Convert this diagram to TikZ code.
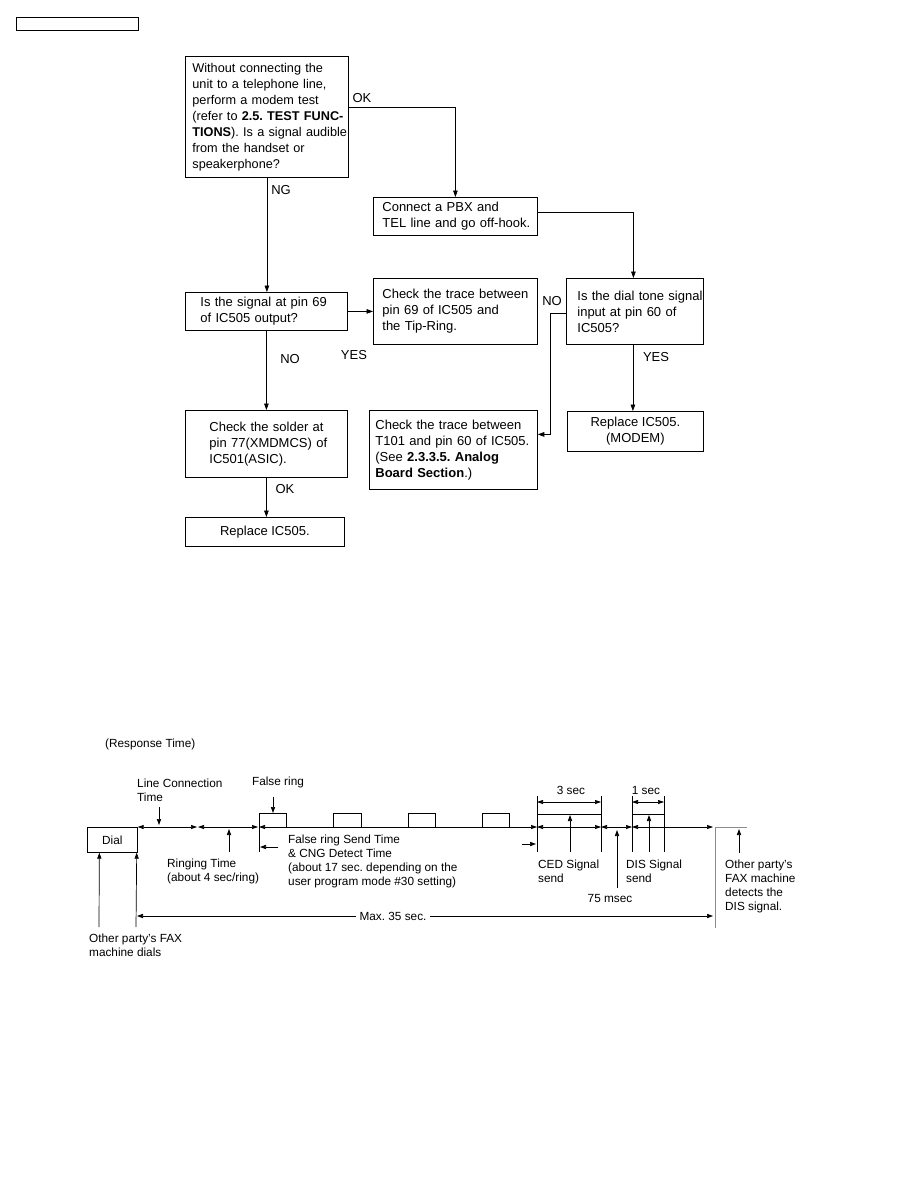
\documentclass[tikz,border=0pt]{standalone}
\usepackage{fontspec}
\setmainfont{Liberation Sans}
\usetikzlibrary{arrows.meta}
\frenchspacing
\newcommand\fcfont{\fontsize{13}{16}\selectfont}
\newcommand\fcfontb{\fontsize{12.7}{16}\selectfont}
\newcommand\tmfont{\fontsize{11.8}{14}\selectfont}
\tikzset{
  fbox/.style={draw, line width=0.8pt, anchor=north west, font=\fcfont, align=left, inner ysep=0pt},
  arr/.style={-{Triangle[length=6.5pt,width=4.6pt]}, line width=0.7pt},
  lbl/.style={font=\fcfont, inner sep=0pt},
  tline/.style={line width=0.7pt},
  darr/.style={{Triangle[length=6pt,width=4pt]}-{Triangle[length=6pt,width=4pt]}, line width=0.6pt},
  sarr/.style={-{Triangle[length=6pt,width=4.2pt]}, line width=0.7pt},
  ttxt/.style={font=\tmfont, align=left, anchor=north west, inner sep=0pt},
  tc/.style={font=\tmfont, inner sep=0pt},
  gline/.style={line width=0.9pt, draw=black!45},
}
\begin{document}
\begin{tikzpicture}[x=1pt,y=-1pt]
\useasboundingbox (0,0) rectangle (918,1188);
% header box
\node[draw, line width=0.9pt, minimum width=122pt, minimum height=13pt, anchor=north west, inner sep=0pt] (hdr) at (16,17) {};

% ---------------- flowchart ----------------
\node[fbox, font=\fcfontb, minimum width=163pt, minimum height=121pt, inner xsep=7pt, text width=149pt] (b1) at (185,56)
 {\mbox{Without connecting the}\\\mbox{unit to a telephone line,}\\perform a modem test\\\mbox{(refer to \textbf{2.5. TEST FUNC-}}\\\mbox{\textbf{TIONS}). Is a signal audible}\\from the handset or\\speakerphone?};
\node[fbox, minimum width=164pt, minimum height=38pt, inner xsep=9pt, text width=146pt] (pbx) at (373,197)
 {Connect a PBX and\\\mbox{TEL line and go off-hook.}};
\node[fbox, minimum width=162pt, minimum height=38pt, inner xsep=15pt, text width=132pt] (pin69) at (185,292)
 {\mbox{Is the signal at pin 69}\\of IC505 output?};
\node[fbox, minimum width=164pt, minimum height=66pt, inner xsep=9pt, text width=146pt] (trace69) at (373,278)
 {\mbox{Check the trace between}\\pin 69 of IC505 and\\the Tip-Ring.};
\node[fbox, minimum width=137pt, minimum height=66pt, inner xsep=11pt, text width=115pt] (dial) at (566,278)
 {\mbox{Is the dial tone signal}\\\mbox{input at pin 60 of}\\IC505?};
\node[fbox, minimum width=162pt, minimum height=67pt, inner xsep=24pt, text width=114pt] (solder) at (185,410)
 {\mbox{Check the solder at}\\\mbox{pin 77(XMDMCS) of}\\IC501(ASIC).};
\node[fbox, minimum width=168pt, minimum height=79pt, inner xsep=6pt, text width=156pt] (t101) at (369,410)
 {\mbox{Check the trace between}\\\mbox{T101 and pin 60 of IC505.}\\(See \textbf{2.3.3.5. Analog}\\\textbf{Board Section}.)};
\node[fbox, minimum width=136pt, minimum height=40pt, align=center] (modem) at (567,411)
 {Replace IC505.\\(MODEM)};
\node[fbox, minimum width=159pt, minimum height=29pt, align=center] (repl) at (185,517)
 {Replace IC505.};

% connectors
\draw[arr] ([yshift=9.5pt]b1.east) -| (pbx.north);
\draw[arr] (b1.south) -- (b1.south |- pin69.north);
\draw[arr] (pin69.east) -- (trace69.west |- pin69.east);
\draw[arr] ([yshift=4pt]pbx.east) -| ([xshift=-1.5pt]dial.north);
\draw[arr] ([yshift=-2pt]dial.west) -- ++(-16,0) |- ([yshift=15.5pt]t101.east);
\draw[arr] ([xshift=-2pt]dial.south) -- ([xshift=-2pt]dial.south |- modem.north);
\draw[arr] (pin69.south) -- (pin69.south |- solder.north);
\draw[arr] (solder.south) -- (solder.south |- repl.north);

% labels
\node[lbl] (lok1) at (362,98) {OK};
\node[lbl] (lng) at (281,190) {NG};
\node[lbl] (lno1) at (290,359) {NO};
\node[lbl] (lyes1) at (354,355) {YES};
\node[lbl] (lno2) at (552,301) {NO};
\node[lbl] (lyes2) at (656,357) {YES};
\node[lbl] (lok2) at (285,489) {OK};

% ---------------- timing chart ----------------
\node[ttxt] (resp) at (105,738.5) {(Response Time)};
\node[draw, line width=0.7pt, anchor=north west, minimum width=50pt, minimum height=25pt, inner sep=0pt, font=\tmfont] (dialbox) at (87,827) {Dial};

% baseline segments
\draw[darr] (dialbox.north east) -- (197,827);
\draw[darr] (198,827) -- (258,827);
\draw[darr] (259,827) -- (537,827);
\draw[darr] (537,827) -- (601,827);
\draw[darr] (601,827) -- (632,827);
\draw[darr] (632,827) -- (713,827);
\draw[gline] (747,827) -- (715,827) -- (715,928);

% false ring pulses
\draw[tline] (259,852) -- (259,813) -- (286,813) -- (286,827);
\draw[tline] (333,827) |- (361,813) -- (361,827);
\draw[tline] (408,827) |- (435,813) -- (435,827);
\draw[tline] (482,827) |- (509,813) -- (509,827);

% CED block
\draw[tline] (537,796) -- (537,852);
\draw[tline] (601,796) -- (601,852);
\draw[tline] (537,814) -- (601,814);
\draw[darr] (537,802) -- (601,802);
\draw[sarr] (570,852) -- (570,815);
% DIS block
\draw[tline] (632,796) -- (632,852);
\draw[tline] (664,796) -- (664,852);
\draw[tline] (632,814) -- (664,814);
\draw[darr] (632,802) -- (664,802);
\draw[sarr] (649,852) -- (649,815);

% pointer arrows
\node[tc] (lct) at (137,778.5) [anchor=north west, align=left] {Line Connection\\Time};
\draw[sarr] (159,807) -- (159,825);
\node[tc] (fr) at (278,782) {False ring};
\draw[sarr] (273,797) -- (273,813);
\draw[sarr] (229,852) -- (229,829);
\node[ttxt] (ring) at (167,858.5) {Ringing Time\\(about 4 sec/ring)};
\draw[sarr] (278,847) -- (260,847);
\draw[sarr] (522,844) -- (536,844);
\node[ttxt] (frs) at (288,834.5) {False ring Send Time\\\& CNG Detect Time\\(about 17 sec. depending on the\\user program mode \#30 setting)};
\node[tc] (s3) at (571,790) {3 sec};
\node[tc] (s1) at (646,790) {1 sec};
\node[ttxt] (ced) at (538,859.5) {CED Signal\\send};
\node[ttxt] (dis) at (626,859.5) {DIS Signal\\send};
\draw[sarr] (617,888) -- (617,830);
\node[tc] (ms) at (610,898) {75 msec};
\draw[sarr] (739,853) -- (739,829);
\node[ttxt] (det) at (725,859.5) {Other party's\\FAX machine\\detects the\\DIS signal.};

% Max 35 sec
\node[tc, fill=white, inner xsep=3pt] (max) at (393,916) {Max. 35 sec.};
\draw[sarr] (max.west) -- (137,916);
\draw[sarr] (max.east) -- (713,916);

% dial arrows
\draw[sarr] (99,927) -- ([xshift=-13pt]dialbox.south);
\draw[sarr] (136,927) -- ([xshift=-1pt]dialbox.south east);
\node[ttxt] (dials) at (89,933.5) {Other party's FAX\\machine dials};
\end{tikzpicture}
\end{document}
